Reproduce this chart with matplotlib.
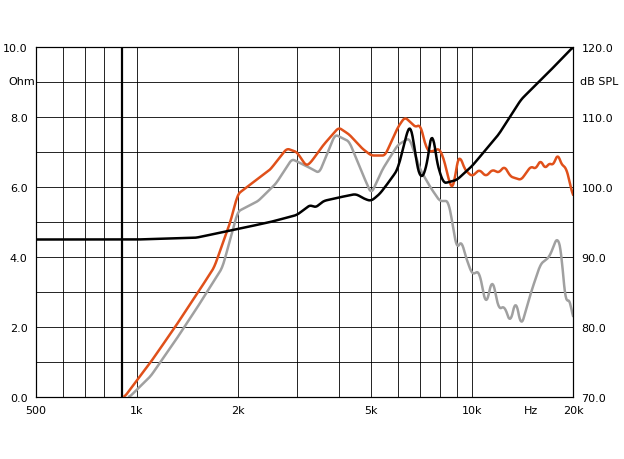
import matplotlib
matplotlib.use("Agg")
import matplotlib.pyplot as plt
import numpy as np

imp_f = [500,1000,1500,2000,2500,3000,3200,3300,3400,3600,4000,4500,4800,5000,5300,5600,6000,6300,6500,6600,6800,7000,7300,7500,7600,7800,8200,9000,10000,12000,14000,17000,20000]
imp_v = [4.5,4.5,4.55,4.8,5.0,5.2,5.4,5.5,5.4,5.6,5.7,5.8,5.65,5.6,5.8,6.1,6.5,7.3,7.8,7.7,6.8,6.2,6.5,7.3,7.8,6.8,6.1,6.2,6.6,7.5,8.5,9.3,10.0]
or_f = [918,1100,1300,1500,1700,1900,2000,2200,2500,2800,3000,3200,3300,3600,4000,4300,4700,5000,5500,6000,6300,6800,7000,7300,7500,8000,8300,8500,8800,9000,9200,9500,10000,10500,11000,11500,12000,12500,13000,14000,15000,15500,16000,16500,17000,17500,18000,18500,19000,19500,20000]
or_v = [0,1.0,2.0,2.9,3.7,5.0,5.8,6.1,6.5,7.1,7.0,6.6,6.7,7.2,7.7,7.5,7.1,6.9,6.9,7.7,8.0,7.7,7.8,7.1,7.0,7.1,6.7,6.2,5.9,6.7,6.9,6.5,6.3,6.5,6.3,6.5,6.4,6.6,6.3,6.2,6.6,6.5,6.8,6.5,6.7,6.6,7.0,6.6,6.6,6.2,5.7]
gr_f = [950,1100,1300,1500,1800,2000,2300,2600,2900,3200,3500,3900,4300,4700,5000,5400,6000,6500,7000,7500,8000,8500,8800,9000,9300,9500,10000,10500,11000,11500,12000,12500,13000,13500,14000,15000,16000,17000,18000,18500,19000,19500,20000]
gr_v = [0,0.6,1.6,2.5,3.7,5.3,5.6,6.1,6.8,6.6,6.4,7.5,7.3,6.4,5.8,6.5,7.2,7.4,6.5,6.0,5.6,5.6,4.8,4.2,4.5,4.1,3.5,3.6,2.6,3.4,2.5,2.6,2.1,2.8,2.0,3.0,3.8,4.0,4.6,4.1,2.6,2.9,2.2]

def smooth(f, v, n=600, k=3):
    lf = np.log10(f)
    x = np.linspace(lf[0], lf[-1], n)
    y = np.interp(x, lf, v)
    yp = np.convolve(np.pad(y, k, mode='edge'), np.ones(2*k+1)/(2*k+1), mode='same')[k:-k]
    return 10**x, yp

fig = plt.figure(figsize=(6.24, 4.6), dpi=100)
ax = fig.add_axes([36/624, 62/460, 537/624, 350/460])
ax.set_xscale('log')
ax.set_xlim(500, 20000)
ax.set_ylim(0, 10)
grid = [600,700,800,900,1000,2000,3000,4000,5000,6000,7000,8000,9000,10000]
for g in grid:
    ax.axvline(g, color='black', lw=0.6)
ax.axvline(900, color='black', lw=1.6)
for y in range(1, 10):
    ax.axhline(y, color='black', lw=0.6)
ax.plot(*smooth(gr_f, gr_v), color='#a0a0a0', lw=1.8)
ax.plot(*smooth(or_f, or_v), color='#e0501a', lw=1.8)
ax.plot(*smooth(imp_f, imp_v), color='black', lw=1.8)
ax.set_xticks([500,1000,2000,5000,10000,15000,20000])
ax.set_xticklabels(['500','1k','2k','5k','10k','Hz','20k'])
ax.minorticks_off()
ax.set_yticks([0,2,4,6,8,10])
ax.set_yticklabels(['0.0','2.0','4.0','6.0','8.0','10.0'])
ax.tick_params(length=0, labelsize=8, pad=6)
ax2 = ax.twinx()
ax2.set_ylim(70, 120)
ax2.set_yticks([70,80,90,100,110,120])
ax2.set_yticklabels(['70.0','80.0','90.0','100.0','110.0','120.0'])
ax2.tick_params(length=0, labelsize=8, pad=6)
for a in (ax, ax2):
    for s in a.spines.values():
        s.set_linewidth(0.8)
fig.text(8/624, 1-82/460, 'Ohm', fontsize=8, va='center')
fig.text(580/624, 1-82/460, 'dB SPL', fontsize=8, va='center')
fig.savefig('out.png', dpi=100)
